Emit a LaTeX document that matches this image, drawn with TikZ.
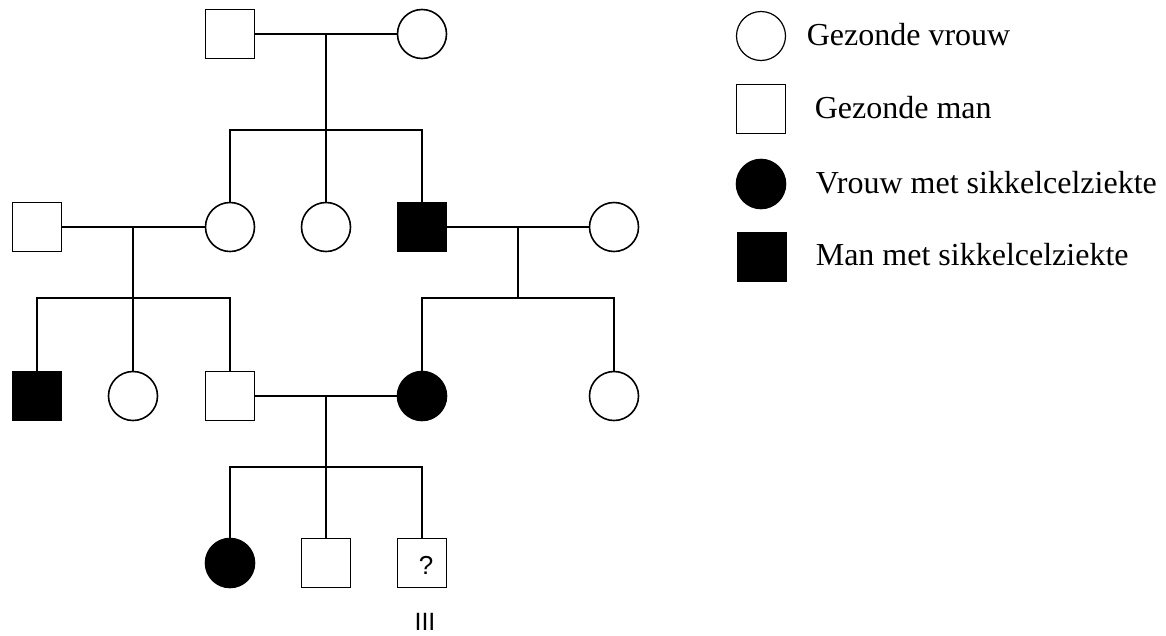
\documentclass[tikz,border=0pt]{standalone}
\usepackage{fontspec}
\setmainfont{Liberation Serif}
\setsansfont{Liberation Sans}
\begin{document}
\begin{tikzpicture}[x=1pt,y=-1pt,
  line width=1.6pt,
  male/.style={draw,rectangle,minimum size=49pt,inner sep=0pt,fill=white},
  female/.style={draw,circle,minimum size=49pt,inner sep=0pt,fill=white},
  amale/.style={male,fill=black},
  afemale/.style={female,fill=black},
  lmale/.style={male,line width=1.2pt},
  lfemale/.style={female,line width=1.2pt},
  lab/.style={anchor=base west,inner sep=0pt,font=\fontsize{32}{38}\selectfont},
  link/.style={line width=1.6pt}]
\useasboundingbox (0,0) rectangle (1166,635);
% Generation I
\node[male] (i1) at (230,34) {};
\node[female] (i2) at (422,34) {};
% Generation II
\node[male] (ii1) at (37,227) {};
\node[female] (ii2) at (230,227) {};
\node[female] (ii3) at (326,227) {};
\node[amale] (ii4) at (422,227) {};
\node[female] (ii5) at (614,227) {};
% Generation III
\node[amale] (iii1) at (37,396) {};
\node[female] (iii2) at (133,396) {};
\node[male] (iii3) at (230,396) {};
\node[afemale] (iii4) at (422,396) {};
\node[female] (iii5) at (614,396) {};
% Generation IV
\node[afemale] (iv1) at (230,563) {};
\node[male] (iv2) at (326,563) {};
\node[male] (iv3) at (422,563) {};
\node[font=\sffamily\fontsize{26}{30}\selectfont,inner sep=0pt] (q) at (426,565) {?};
\node[font=\sffamily\fontsize{25}{30}\selectfont,anchor=base,inner sep=0pt] (gen) at (425,630) {III};
% marriage points
\coordinate (m1) at (326,34);
\coordinate (s1) at (326,130);
\coordinate (m2) at (133,227);
\coordinate (s2) at (133,298);
\coordinate (m3) at (518,227);
\coordinate (s3) at (518,298);
\coordinate (m4) at (326,396);
\coordinate (s4) at (326,467);
\draw[link] (i1.east) -- (i2.west);
\draw[link] (m1) -- (s1);
\draw[link] (ii2.north) |- (s1) -| (ii4.north);
\draw[link] (s1) -- (ii3.north);
\draw[link] (ii1.east) -- (ii2.west);
\draw[link] (m2) -- (s2);
\draw[link] (iii1.north) |- (s2) -| (iii3.north);
\draw[link] (s2) -- (iii2.north);
\draw[link] (ii4.east) -- (ii5.west);
\draw[link] (m3) -- (s3);
\draw[link] (iii4.north) |- (s3) -| (iii5.north);
\draw[link] (iii3.east) -- (iii4.west);
\draw[link] (m4) -- (s4);
\draw[link] (iv1.north) |- (s4) -| (iv3.north);
\draw[link] (s4) -- (iv2.north);
% Legend
\node[lfemale] (l1) at (761,36) {};
\node[lmale] (l2) at (761,109) {};
\node[afemale] (l3) at (761,184) {};
\node[amale] (l4) at (762,257) {};
\node[lab] (t1) at (806,45) {Gezonde vrouw};
\node[lab] (t2) at (814,118) {Gezonde man};
\node[lab] (t3) at (815,193) {Vrouw met sikkelcelziekte};
\node[lab] (t4) at (815,265) {Man met sikkelcelziekte};
\end{tikzpicture}
\end{document}
